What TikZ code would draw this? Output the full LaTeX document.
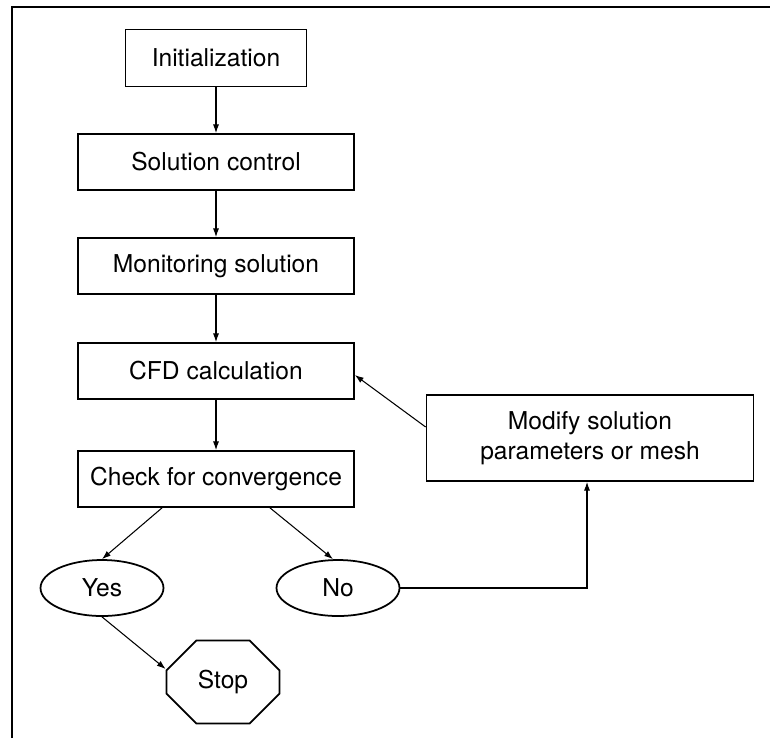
\documentclass[tikz,border=0pt]{standalone}
\usepackage{fontspec}
\setmainfont{TeX Gyre Heros}
\usetikzlibrary{shapes.geometric,shapes.misc,arrows.meta}

\tikzset{
  box/.style={draw, line width=1pt, minimum height=1.12cm, minimum width=5.52cm, inner sep=2pt},
  oval/.style={draw, ellipse, line width=1pt, minimum width=2.46cm, minimum height=1.12cm, inner sep=0pt},
  octo/.style={draw, chamfered rectangle, line width=1pt, minimum width=2.26cm, minimum height=1.66cm,
    chamfered rectangle xsep=0.46cm, chamfered rectangle ysep=0.36cm, inner sep=0pt},
  link/.style={line width=0.6pt, -{Latex[length=5pt,width=3.5pt]}}
}

\begin{document}
\begin{tikzpicture}[x=0.02cm, y=-0.02cm, font=\fontsize{14}{17}\selectfont]
                \useasboundingbox (0,0) rectangle (770,738);
                % Frame
                \draw[line width=1.6pt] (12,738) -- (12,7) -- (770,7);
                % Main column
                \node[box, minimum width=3.62cm, minimum height=1.14cm] (init) at (216,58) {Initialization};
                \node[box] (ctrl) at (216,162) {Solution control};
                \node[box] (mon) at (216,266) {Monitoring solution};
                \node[box] (cfd) at (216,371) {CFD calculation};
                \node[box] (chk) at (216,479) {Check for convergence};
                % Decisions
                \node[oval] (yes) at (102,588) {Yes};
                \node[oval] (no) at (338,588) {No};
                \node[octo] (stop) at (223,682) {Stop};
                % Feedback box
                \node[box, minimum width=6.54cm, minimum height=1.72cm, align=center] (mod) at (590,438)
                    {Modify solution\\parameters or mesh};
                % Arrows down the column
                \foreach \a/\b in {init/ctrl, ctrl/mon, mon/cfd, cfd/chk} {
                    \draw[link] (\a) -- (\b);
                }
                \draw[link] ([xshift=-1.08cm]chk.south) -- (yes.north);
                \draw[link] ([xshift=1.08cm]chk.south) -- ([xshift=-0.1cm]no.north);
                \draw[link] (yes.south) -- ([yshift=0.26cm]stop.west);
                % Loop back
                \draw[link] (no.east) -| ([xshift=-0.06cm]mod.south);
                \draw[link] ([yshift=0.22cm]mod.west) -- ([yshift=-0.08cm]cfd.east);
            \end{tikzpicture}
\end{document}
